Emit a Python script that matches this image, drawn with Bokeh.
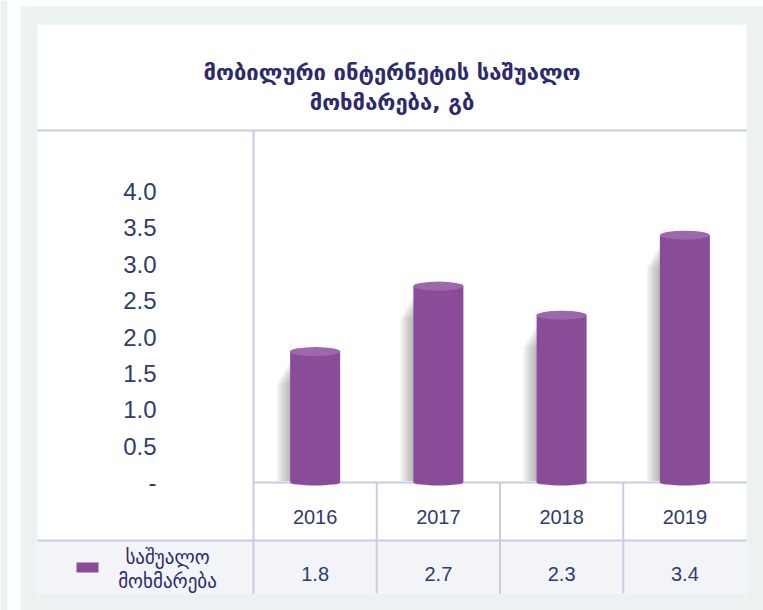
from bokeh.plotting import figure
from bokeh.models import Range1d, LinearAxis, FixedTicker, ColumnDataSource, NumeralTickFormatter
from bokeh.core.properties import value
from bokeh.embed import file_html
from bokeh.resources import INLINE

# ---- data ----
years = ["2016", "2017", "2018", "2019"]
usage = [1.8, 2.7, 2.3, 3.4]
usage_labels = ["1.8", "2.7", "2.3", "3.4"]
y_ticks = [0.0, 0.5, 1.0, 1.5, 2.0, 2.5, 3.0, 3.5, 4.0]
title_lines = ["მობილური ინტერნეტის საშუალო", "მოხმარება, გბ"]
series_name = ["საშუალო", "მოხმარება"]

# ---- style / layout ----
BG = "#ECF1F1"
PURPLE = "#8A4C99"
PURPLE_TOP = "#9D68AB"
LINE = "#C8CCE0"
NAVY = "#2E3B6E"
TITLE_C = "#2B2A6E"
NUMFONT = "Liberation Sans"
GEOFONT = "DejaVu Sans"

W, H = 763, 610
PL, PR, PT, PB = 37, 746, 24, 593   # white panel (pixels)
AXIS_X = 253      # pixel x of value axis
ZERO_Y = 482      # pixel y of zero line
UNIT_Y = 72.75    # px per 1.0
CAT_W = (PR - AXIS_X) / 4.0

def ydat(py):
    return (ZERO_Y - py) / UNIT_Y

def xdat(px):
    return (px - AXIS_X) / CAT_W

fx0, fx1 = xdat(0), xdat(W)
fy0, fy1 = ydat(H), ydat(0)
x0, x1 = xdat(PL), 4.0
y0 = ydat(PB)

p = figure(width=W, height=H, output_backend="svg", toolbar_location=None,
           x_range=Range1d(fx0, fx1), y_range=Range1d(fy0, fy1),
           min_border=0, background_fill_color="white", border_fill_color="white",
           outline_line_color=None, x_axis_type=None, y_axis_type=None)
p.grid.visible = False

# outer gray surround
gl = [0, 20, PL, PR, PL]
gr = [7, PL, PR, W, PR]
gt = [0, 6, 6, 6, PB]
gb = [H, H, PT, H, H]
p.quad(left=[xdat(v) for v in gl], right=[xdat(v) for v in gr],
       top=[ydat(v) for v in gt], bottom=[ydat(v) for v in gb],
       fill_color=BG, line_color=None)

xs = [i + 0.5 for i in range(len(years))]
src = ColumnDataSource(dict(x=xs, top=usage, year=years, lab=usage_labels))

# table row background
y_row = ydat(540)
p.quad(left=x0, right=x1, top=y_row, bottom=y0, fill_color="#F2F4F8", line_color=None)

# decorative table / frame lines
y_head = ydat(130)
p.segment(x0=[x0, x0, 0, 0] + [1, 2, 3],
          y0=[y_head, y_row, y0, 0] + [0, 0, 0],
          x1=[x1, x1, 0, x1] + [1, 2, 3],
          y1=[y_head, y_row, y_head, 0] + [y0, y0, y0],
          line_color=LINE, line_width=2)

# bars as cylinders with soft shadow
bw = 50 / CAT_W
for k in range(1, 10):
    p.vbar(x=[x - (k * 1.5) / CAT_W for x in xs],
           top=[v - 0.12 - 0.035 * k for v in usage],
           bottom=0.02, width=bw, fill_color="#555555", fill_alpha=0.055, line_color=None)
p.vbar(x="x", top="top", bottom=0, width=bw, source=src, fill_color=PURPLE, line_color=None)
p.ellipse(x="x", y=0, width=bw, height=6, height_units="screen", source=src,
          fill_color=PURPLE, line_color=None)
p.ellipse(x="x", y="top", width=bw, height=9, height_units="screen", source=src,
          fill_color=PURPLE_TOP, line_color=None)

# value axis
yax = LinearAxis(fixed_location=0, ticker=FixedTicker(ticks=y_ticks),
                 formatter=NumeralTickFormatter(format="0.0"))
yax.major_label_overrides = {0: "-"}
yax.axis_line_color = None
yax.major_tick_line_color = None
yax.minor_tick_line_color = None
yax.major_label_standoff = 91
yax.major_label_text_font = NUMFONT
yax.major_label_text_font_size = "24px"
yax.major_label_text_color = NAVY
p.add_layout(yax, "left")

# category axis (years)
xax = LinearAxis(fixed_location=0, ticker=FixedTicker(ticks=xs))
xax.major_label_overrides = {x: y for x, y in zip(xs, years)}
xax.axis_line_color = None
xax.major_tick_line_color = None
xax.minor_tick_line_color = None
xax.major_label_standoff = 21
xax.major_label_text_font = NUMFONT
xax.major_label_text_font_size = "20px"
xax.major_label_text_color = NAVY
p.add_layout(xax, "below")

# values row
p.text(x="x", y=ydat(573), text="lab", source=src, text_align="center",
       text_baseline="middle", text_font=value(NUMFONT), text_font_size="20px",
       text_color=NAVY)

# legend cell
p.rect(x=[xdat(87)], y=[ydat(567)], width=22, height=10, width_units="screen",
       height_units="screen", fill_color=PURPLE, line_color=None)
p.text(x=[xdat(167)] * 2, y=[ydat(556), ydat(580)], text=series_name,
       text_align="center", text_baseline="middle", text_font=value(GEOFONT),
       text_font_size="19px", text_color=TITLE_C)

# title
p.text(x=[(x0 + x1) / 2] * 2, y=[ydat(72), ydat(102)], text=title_lines,
       text_align="center", text_baseline="middle", text_font=value(GEOFONT),
       text_font_style="bold", text_font_size="22px", text_color=TITLE_C)

open("out.html", "w").write(file_html(p, INLINE))
